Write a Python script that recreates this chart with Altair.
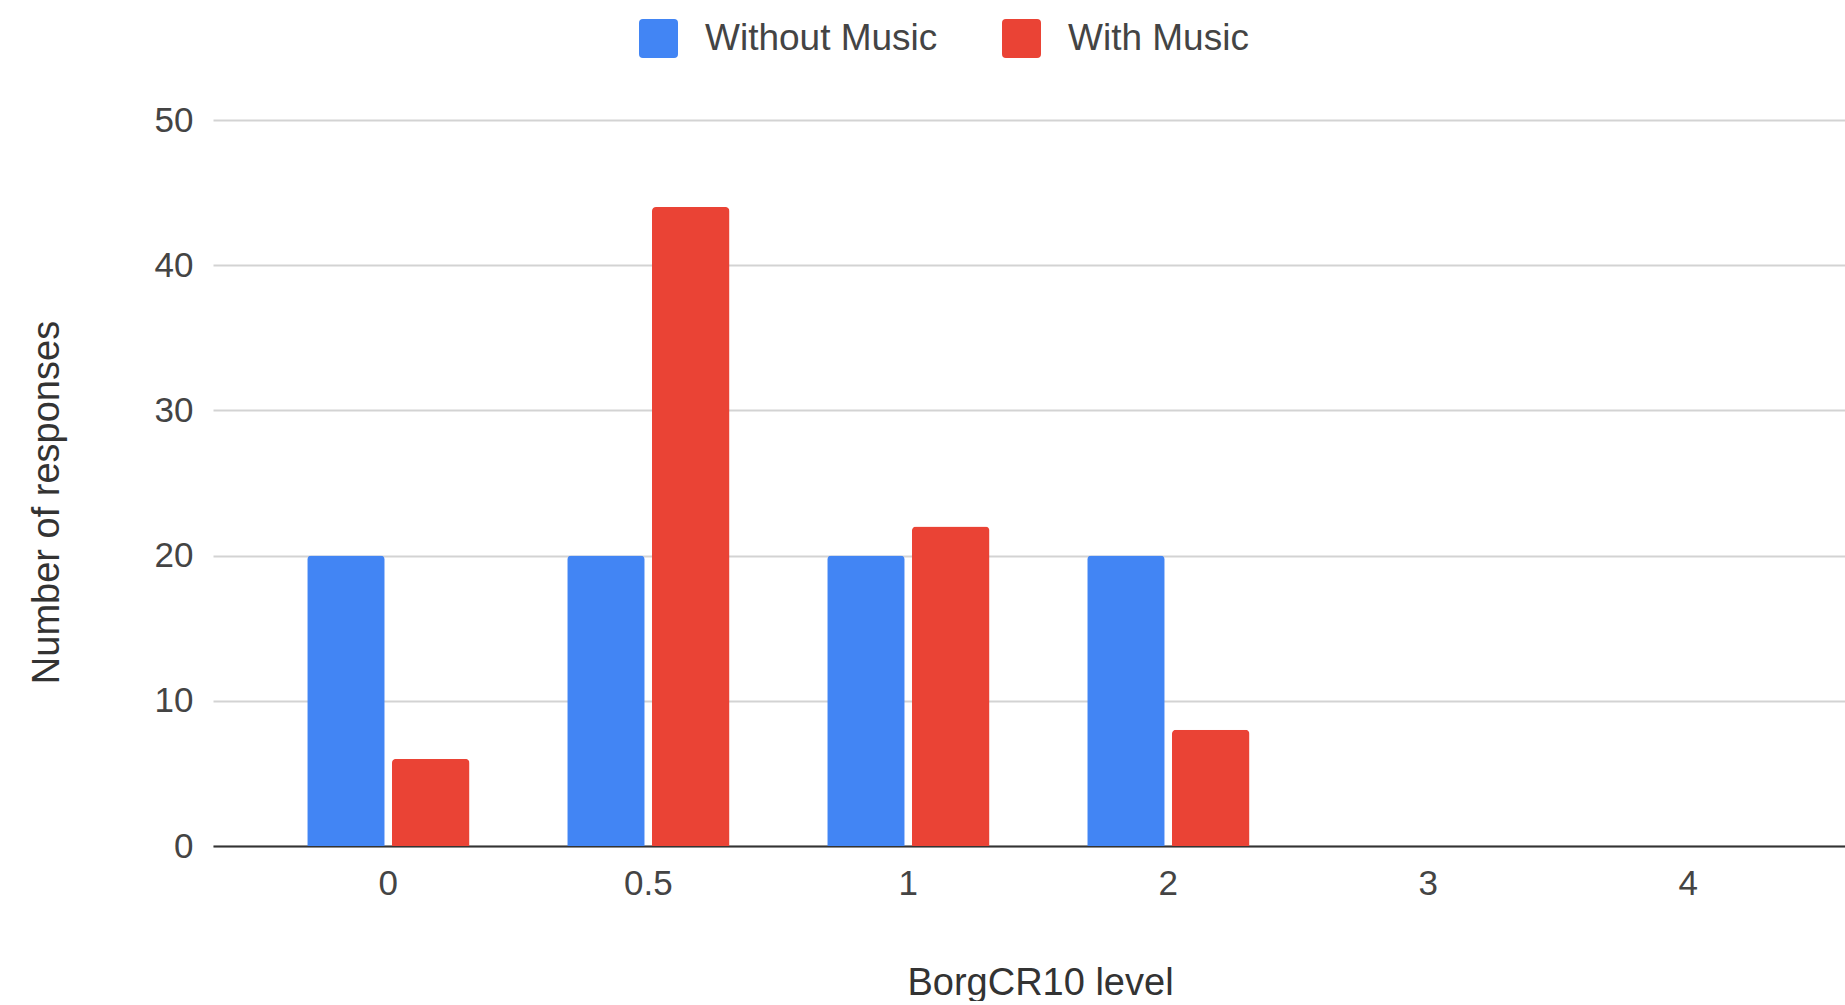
import altair as alt
import pandas as pd

categories = ["0", "0.5", "1", "2", "3", "4"]
without_music = [20, 20, 20, 20, 0, 0]
with_music = [6, 44, 22, 8, 0, 0]
series = ["Without Music", "With Music"]
colors = ["#4285F4", "#EA4335"]
y_ticks = [0, 10, 20, 30, 40, 50]

rows = []
for c, a, b in zip(categories, without_music, with_music):
    rows.append({"level": c, "series": series[0], "count": a})
    rows.append({"level": c, "series": series[1], "count": b})
df = pd.DataFrame(rows)

FONT = "Liberation Sans"
rounded_square = ("M-0.8,-1 L0.8,-1 Q1,-1 1,-0.8 L1,0.8 Q1,1 0.8,1 "
                  "L-0.8,1 Q-1,1 -1,0.8 L-1,-0.8 Q-1,-1 -0.8,-1 Z")

chart = alt.Chart(df).mark_bar(
    cornerRadiusTopLeft=4, cornerRadiusTopRight=4
).encode(
    x=alt.X(
        "level:N",
        sort=categories,
        scale=alt.Scale(paddingInner=0.376, paddingOuter=0.3265, align=0.555),
        axis=alt.Axis(
            title="BorgCR10 level",
            labelAngle=0,
            labelFontSize=35,
            labelFont=FONT,
            labelColor="#444444",
            labelPadding=20,
            ticks=False,
            domainColor="#333333",
            domainWidth=2,
            grid=False,
            titleFont=FONT,
            titleFontSize=38,
            titleFontWeight="normal",
            titleColor="#333333",
            titleX=827,
            titleY=148,
            titleAlign="center",
            titleBaseline="alphabetic",
        ),
    ),
    xOffset=alt.XOffset(
        "series:N",
        sort=series,
        scale=alt.Scale(paddingInner=0.086, paddingOuter=0),
    ),
    y=alt.Y(
        "count:Q",
        scale=alt.Scale(domain=[0, 50], nice=False),
        axis=alt.Axis(
            title="Number of responses",
            values=y_ticks,
            labelFontSize=35,
            labelFont=FONT,
            labelColor="#444444",
            labelPadding=20,
            ticks=False,
            domain=False,
            gridColor="#d3d3d3",
            gridWidth=2,
            titleFont=FONT,
            titleFontSize=38,
            titleFontWeight="normal",
            titleColor="#333333",
            titleX=-166,
            titleY=382,
            titleBaseline="middle",
            titleAlign="center",
        ),
    ),
    color=alt.Color(
        "series:N",
        sort=series,
        scale=alt.Scale(domain=series, range=colors),
        legend=alt.Legend(
            title=None,
            orient="none",
            legendX=426,
            legendY=-101,
            direction="horizontal",
            symbolType=rounded_square,
            symbolSize=1521,
            symbolStrokeWidth=0,
            labelFont=FONT,
            labelFontSize=37,
            labelColor="#444444",
            labelOffset=27,
            labelLimit=600,
            columnPadding=64,
            padding=0,
        ),
    ),
).properties(
    width=1632,
    height=726,
    autosize=alt.AutoSizeParams(type="none"),
    padding={"left": 213, "top": 120, "right": 0, "bottom": 155},
    background="white",
).configure_view(stroke=None)

chart.save("out.html", embed_options={"renderer": "svg", "actions": False})
